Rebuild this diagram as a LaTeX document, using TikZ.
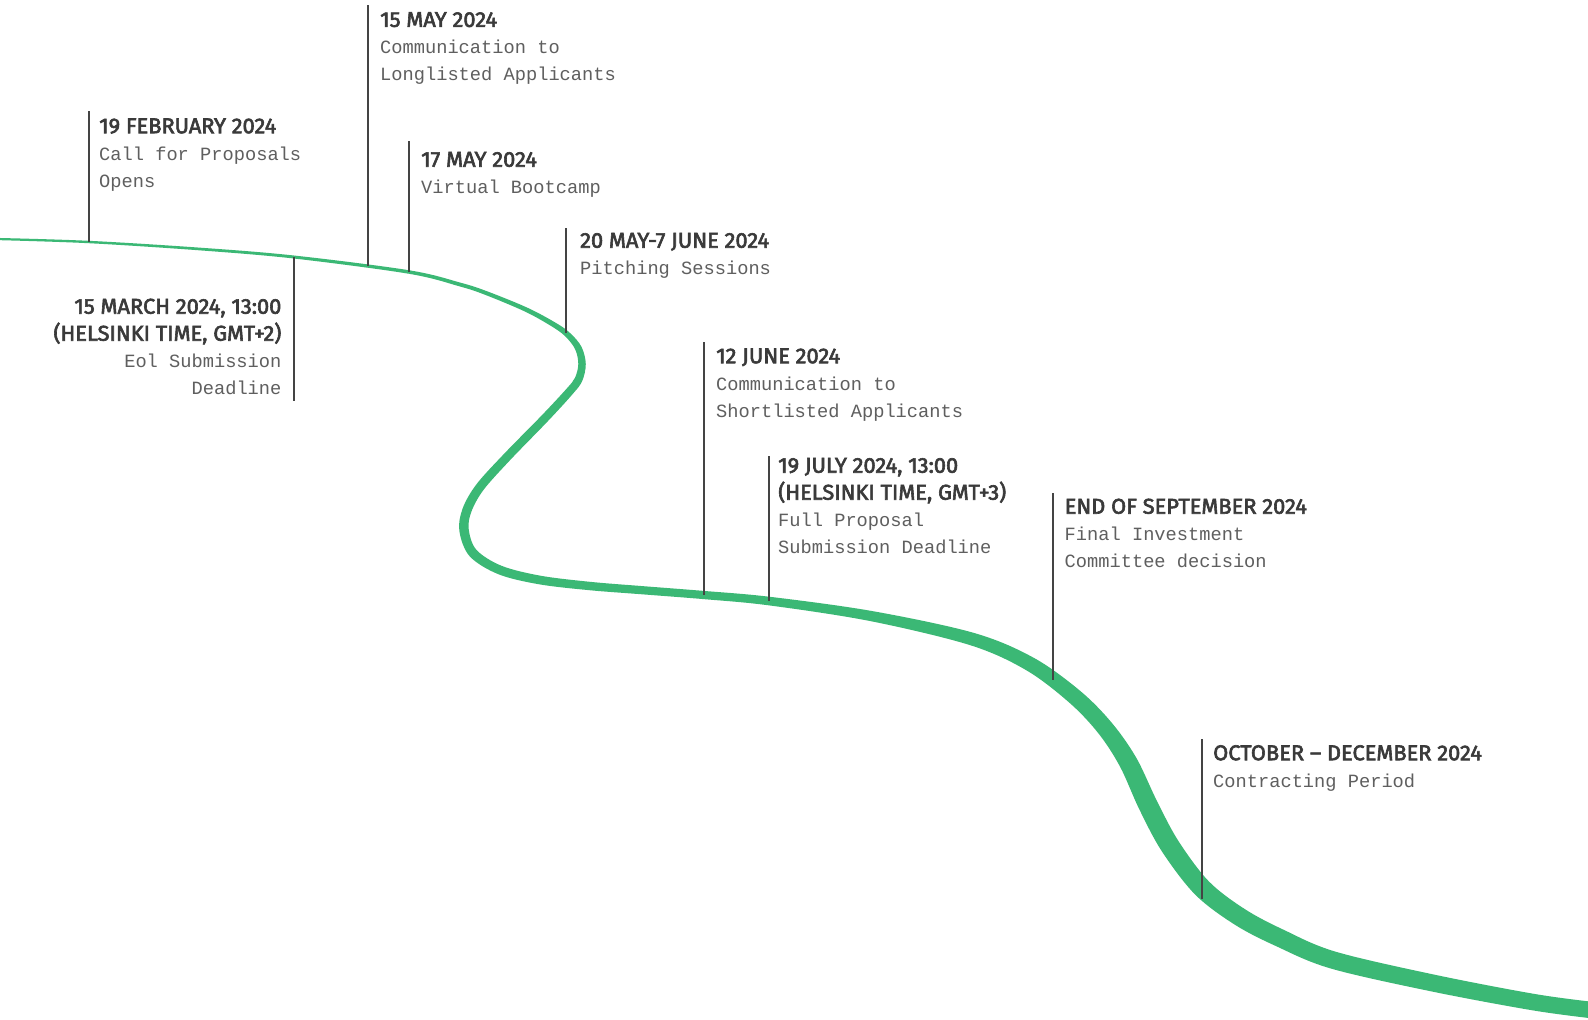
\documentclass[tikz,border=0pt]{standalone}
\usepackage{fontspec}
\setmainfont{Liberation Mono}
\newfontfamily\titlefam[FakeStretch=1.02,FakeBold=2.8]{Fira Sans}
\newfontfamily\monofam{Liberation Mono}
\usetikzlibrary{calc}
\definecolor{grn}{RGB}{59,184,117}
\definecolor{ttlc}{RGB}{58,58,58}
\definecolor{bdyc}{RGB}{95,95,95}
\definecolor{tkc}{RGB}{68,68,68}
\newcommand\evtitle[1]{{\color{ttlc}\titlefam\fontsize{21.4}{27}\selectfont #1}}
\newcommand\evbody[1]{{\color{bdyc}\monofam\fontsize{18.7}{27}\selectfont #1}}
\begin{document}
\begin{tikzpicture}[x=1pt,y=-1pt,
  evtext/.style={inner sep=0pt, font=\fontsize{18.7}{27}\selectfont, align=left, anchor=north west},
  evtextr/.style={inner sep=0pt, font=\fontsize{18.7}{27}\selectfont, align=right, anchor=north east},
  tickline/.style={draw=tkc, line width=1.4pt},
  bandfill/.style={fill=grn, draw=none}
  ]
\useasboundingbox (0,0) rectangle (1588,1020);
\fill[white] (0,0) rectangle (1588,1020);

% green timeline band: outline offset from a centre line (built at 1/10 scale)
\begin{scope}[x=0.1pt,y=-0.1pt,transform canvas={scale=10}]
\foreach \px/\py/\pw [count=\i] in {
 -3/239/2.2, 89/242/2.4, 200/249/2.7, 294/257/3.0, 409/272/3.5, 460/284.5/3.8,
 486/293/4.0, 527/310/4.5, 556/326/5.2, 569/336/5.8, 578.5/348.5/6.8, 582/364/7.5,
 578.5/379.5/7.9, 569/392/8.1, 545/418/8.4, 507/457/8.7, 480/487/9.0, 467/510/9.3,
 464/530/9.5, 473/553/9.3, 500/570/9.0, 540/580/8.7, 590/586/8.4, 640/590/8.2,
 704/595/8.2, 769/601/8.6, 871/616/10.2, 972/639/12.8, 1030/664/14.5, 1075/697/16,
 1105/728/17, 1128/762/18.5, 1148/805/19.5, 1170/846/19.5, 1202/888/19, 1240/917/18.5,
 1280/938/18, 1333/960/17.5, 1433/983/17, 1533/1002/16.5, 1592/1010/16.5} {
  \coordinate (c\i) at (\px,\py);
  \expandafter\xdef\csname bandw\i\endcsname{\pw}
}
\foreach \i in {1,...,41} {
  \pgfmathtruncatemacro\ip{max(\i-1,1)}
  \pgfmathtruncatemacro\inx{min(\i+1,41)}
  \pgfmathsetmacro\hw{\csname bandw\i\endcsname/20}
  \coordinate (ta) at ($(c\ip)!\hw pt!90:(c\inx)$);
  \coordinate (u\i) at ($(c\i)+(ta)-(c\ip)$);
  \coordinate (tb) at ($(c\ip)!\hw pt!-90:(c\inx)$);
  \coordinate (l\i) at ($(c\i)+(tb)-(c\ip)$);
}
\path[bandfill] plot[smooth, tension=0.55] coordinates {
 (u1) (u2) (u3) (u4) (u5) (u6) (u7) (u8) (u9) (u10) (u11) (u12) (u13) (u14) (u15) (u16)
 (u17) (u18) (u19) (u20) (u21) (u22) (u23) (u24) (u25) (u26) (u27) (u28) (u29) (u30)
 (u31) (u32) (u33) (u34) (u35) (u36) (u37) (u38) (u39) (u40) (u41)}
 -- plot[smooth, tension=0.55] coordinates {
 (l41) (l40) (l39) (l38) (l37) (l36) (l35) (l34) (l33) (l32) (l31)
 (l30) (l29) (l28) (l27) (l26) (l25) (l24) (l23) (l22) (l21) (l20) (l19) (l18) (l17)
 (l16) (l15) (l14) (l13) (l12) (l11) (l10) (l9) (l8) (l7) (l6) (l5) (l4) (l3) (l2) (l1)} -- cycle;
\end{scope}

% tick coordinates
\coordinate (k1t) at (89,111);   \coordinate (k1b) at (89,242);
\coordinate (k2t) at (294,257);  \coordinate (k2b) at (294,401);
\coordinate (k3t) at (368,5);    \coordinate (k3b) at (368,266);
\coordinate (k4t) at (409,141);  \coordinate (k4b) at (409,272);
\coordinate (k5t) at (566,228);  \coordinate (k5b) at (566,333);
\coordinate (k6t) at (704,342);  \coordinate (k6b) at (704,595);
\coordinate (k7t) at (769,456);  \coordinate (k7b) at (769,601);
\coordinate (k8t) at (1053,493); \coordinate (k8b) at (1053,680);
\coordinate (k9t) at (1202,739); \coordinate (k9b) at (1202,899);

\foreach \i in {1,...,9} { \draw[tickline] (k\i t) -- (k\i b); }

% texts
\node[evtext] (ev1) at (99,114.1) {\strut\evtitle{19 FEBRUARY 2024}\\\evbody{Call for Proposals}\\\evbody{Opens}};
\node[evtextr] (ev2) at (281.6,294.6) {\strut\evtitle{15 MARCH 2024, 13:00}\\\evtitle{(HELSINKI TIME, GMT+2)}\\\evbody{Eol Submission}\\\evbody{Deadline}};
\node[evtext] (ev3) at (380,7.8) {\strut\evtitle{15 MAY 2024}\\\evbody{Communication to}\\\evbody{Longlisted Applicants}};
\node[evtext] (ev4) at (421,147.6) {\strut\evtitle{17 MAY 2024}\\\evbody{Virtual Bootcamp}};
\node[evtext] (ev5) at (580,228.6) {\strut\evtitle{20 MAY-7 JUNE 2024}\\\evbody{Pitching Sessions}};
\node[evtext] (ev6) at (716,344.1) {\strut\evtitle{12 JUNE 2024}\\\evbody{Communication to}\\\evbody{Shortlisted Applicants}};
\node[evtext] (ev7) at (778,453.6) {\strut\evtitle{19 JULY 2024, 13:00}\\\evtitle{(HELSINKI TIME, GMT+3)}\\\evbody{Full Proposal}\\\evbody{Submission Deadline}};
\node[evtext] (ev8) at (1064.5,494.6) {\strut\evtitle{END OF SEPTEMBER 2024}\\\evbody{Final Investment}\\\evbody{Committee decision}};
\node[evtext] (ev9) at (1213,741.1) {\strut\evtitle{OCTOBER – DECEMBER 2024}\\\evbody{Contracting Period}};
\end{tikzpicture}
\end{document}
